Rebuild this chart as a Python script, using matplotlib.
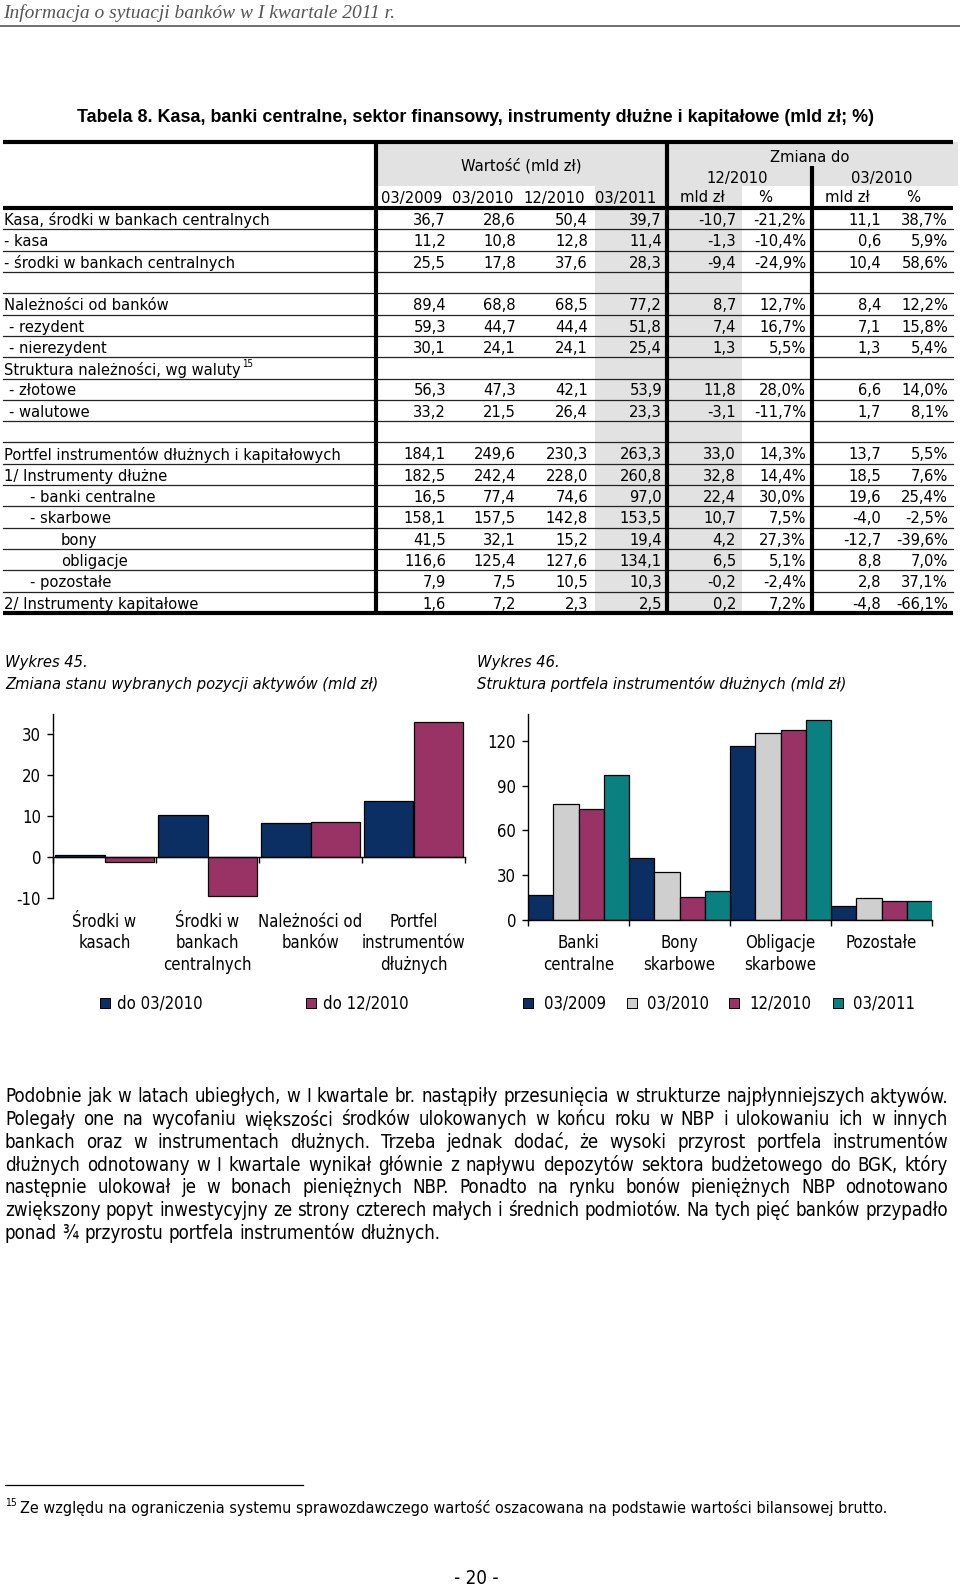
import matplotlib
matplotlib.use('Agg')
import matplotlib.pyplot as plt
from matplotlib.patches import Rectangle
from matplotlib.transforms import blended_transform_factory

# ---------------- data ----------------
page_header = "Informacja o sytuacji banków w I kwartale 2011 r."
table_title = "Tabela 8. Kasa, banki centralne, sektor finansowy, instrumenty dłużne i kapitałowe (mld zł; %)"

row_labels = ["Kasa, środki w bankach centralnych", "- kasa", "- środki w bankach centralnych", "",
              "Należności od banków", "- rezydent", "- nierezydent",
              "Struktura należności, wg waluty", "- złotowe", "- walutowe", "",
              "Portfel instrumentów dłużnych i kapitałowych", "1/ Instrumenty dłużne",
              "- banki centralne", "- skarbowe", "bony", "obligacje", "- pozostałe",
              "2/ Instrumenty kapitałowe"]
row_level = [0, 0, 0, 0, 0, 1, 1, 0, 1, 1, 0, 0, 0, 2, 2, 3, 3, 2, 0]

v_0309 = [36.7, 11.2, 25.5, None, 89.4, 59.3, 30.1, None, 56.3, 33.2, None,
          184.1, 182.5, 16.5, 158.1, 41.5, 116.6, 7.9, 1.6]
v_0310 = [28.6, 10.8, 17.8, None, 68.8, 44.7, 24.1, None, 47.3, 21.5, None,
          249.6, 242.4, 77.4, 157.5, 32.1, 125.4, 7.5, 7.2]
v_1210 = [50.4, 12.8, 37.6, None, 68.5, 44.4, 24.1, None, 42.1, 26.4, None,
          230.3, 228.0, 74.6, 142.8, 15.2, 127.6, 10.5, 2.3]
v_0311 = [39.7, 11.4, 28.3, None, 77.2, 51.8, 25.4, None, 53.9, 23.3, None,
          263.3, 260.8, 97.0, 153.5, 19.4, 134.1, 10.3, 2.5]
d_1210 = [-10.7, -1.3, -9.4, None, 8.7, 7.4, 1.3, None, 11.8, -3.1, None,
          33.0, 32.8, 22.4, 10.7, 4.2, 6.5, -0.2, 0.2]
p_1210 = [-21.2, -10.4, -24.9, None, 12.7, 16.7, 5.5, None, 28.0, -11.7, None,
          14.3, 14.4, 30.0, 7.5, 27.3, 5.1, -2.4, 7.2]
d_0310 = [11.1, 0.6, 10.4, None, 8.4, 7.1, 1.3, None, 6.6, 1.7, None,
          13.7, 18.5, 19.6, -4.0, -12.7, 8.8, 2.8, -4.8]
p_0310 = [38.7, 5.9, 58.6, None, 12.2, 15.8, 5.4, None, 14.0, 8.1, None,
          5.5, 7.6, 25.4, -2.5, -39.6, 7.0, 37.1, -66.1]

col_headers = ["03/2009", "03/2010", "12/2010", "03/2011", "mld zł", "%", "mld zł", "%"]

# Wykres 45
title45 = ["Wykres 45.", "Zmiana stanu wybranych pozycji aktywów (mld zł)"]
cats45 = ["Środki w\nkasach", "Środki w\nbankach\ncentralnych", "Należności od\nbanków",
          "Portfel\ninstrumentów\ndłużnych"]
series45_names = ["do 03/2010", "do 12/2010"]
s45_do0310 = [0.6, 10.4, 8.4, 13.7]
s45_do1210 = [-1.3, -9.4, 8.7, 33.0]
yticks45 = [-10, 0, 10, 20, 30]

# Wykres 46
title46 = ["Wykres 46.", "Struktura portfela instrumentów dłużnych (mld zł)"]
cats46 = ["Banki\ncentralne", "Bony\nskarbowe", "Obligacje\nskarbowe", "Pozostałe"]
series46_names = ["03/2009", "03/2010", "12/2010", "03/2011"]
s46_0309 = [16.5, 41.5, 116.6, 9.5]
s46_0310 = [77.4, 32.1, 125.4, 14.7]
s46_1210 = [74.6, 15.2, 127.6, 12.8]
s46_0311 = [97.0, 19.4, 134.1, 12.8]
yticks46 = [0, 30, 60, 90, 120]

para_lines = [
    "Podobnie jak w latach ubiegłych, w I kwartale br. nastąpiły przesunięcia w strukturze najpłynniejszych aktywów.",
    "Polegały one na wycofaniu większości środków ulokowanych w końcu roku w NBP i ulokowaniu ich w innych",
    "bankach oraz w instrumentach dłużnych. Trzeba jednak dodać, że wysoki przyrost portfela instrumentów",
    "dłużnych odnotowany w I kwartale wynikał głównie z napływu depozytów sektora budżetowego do BGK, który",
    "następnie ulokował je w bonach pieniężnych NBP. Ponadto na rynku bonów pieniężnych NBP odnotowano",
    "zwiększony popyt inwestycyjny ze strony czterech małych i średnich podmiotów. Na tych pięć banków przypadło",
    "ponad ¾ przyrostu portfela instrumentów dłużnych.",
]
footnote = "Ze względu na ograniczenia systemu sprawozdawczego wartość oszacowana na podstawie wartości bilansowej brutto."
page_no = "- 20 -"

# ---------------- style ----------------
NAVY, PLUM, GREY, TEAL = "#0b2f63", "#993366", "#cfcfcf", "#0a8080"
SHADE = "#e2e2e2"
F = dict(family="DejaVu Sans", fontstretch="condensed")
TS = 11.8  # table font size
TDY = 1.8  # vertical nudge for table text

W, H = 960, 1592
fig = plt.figure(figsize=(W / 100, H / 100), dpi=100)
fig.patch.set_facecolor("white")
ax0 = fig.add_axes([0, 0, 1, 1])
ax0.set_xlim(0, W)
ax0.set_ylim(H, 0)
ax0.axis("off")
renderer = fig.canvas.get_renderer()


def fmt(v, pct=False):
    if v is None:
        return ""
    s = f"{v:.1f}".replace(".", ",")
    return s + ("%" if pct else "")


def text_w(s, size, **kw):
    t = ax0.text(0, -200, s, fontsize=size, **kw)
    w = t.get_window_extent(renderer).width
    t.remove()
    return w


# page header
ax0.text(3, 13, page_header, family="Liberation Serif", style="italic", fontsize=14,
         color="#555555", va="center", ha="left")
ax0.plot([0, W], [26, 26], color="#555555", lw=1.2)

# table title
ax0.text(77, 117, table_title, family="Liberation Sans", weight="bold", fontsize=12.9,
         va="center", ha="left")

# ---------------- table ----------------
tx0, tx1 = 3, 953
top_y, hdr_y, bot_y = 142, 208, 613
nrows = len(row_labels)
rh = (bot_y - hdr_y) / nrows

# shading
ax0.add_patch(Rectangle((378, top_y), 958 - 378, 186 - top_y, color=SHADE, lw=0, zorder=0))
ax0.add_patch(Rectangle((595, 186), 742 - 595, bot_y - 186, color=SHADE, lw=0, zorder=0))

# header texts
ax0.text(521, 166, "Wartość (mld zł)", fontsize=TS, ha="center", va="center", **F)
ax0.text(810, 157, "Zmiana do", fontsize=TS, ha="center", va="center", **F)
ax0.text(737, 178, "12/2010", fontsize=TS, ha="center", va="center", **F)
ax0.text(882, 178, "03/2010", fontsize=TS, ha="center", va="center", **F)
hdr_cx = [412, 483, 554, 626, 702, 765, 847, 913]
for cx, lab in zip(hdr_cx, col_headers):
    ax0.text(cx, 198, lab, fontsize=TS, ha="center", va="center", **F)

# body rows
indent_px = [4, 9, 30, 61]
col_right = [446, 516, 588, 662, 736, 806, 881, 948]
cols = [(v_0309, False), (v_0310, False), (v_1210, False), (v_0311, False),
        (d_1210, False), (p_1210, True), (d_0310, False), (p_0310, True)]
for i, lab in enumerate(row_labels):
    cy = hdr_y + (i + 0.5) * rh + TDY
    if lab:
        t = ax0.text(indent_px[row_level[i]], cy, lab, fontsize=TS, ha="left", va="center", **F)
        if lab.startswith("Struktura"):
            bb = t.get_window_extent(renderer)
            ax0.text(indent_px[row_level[i]] + bb.width + 1, cy - 6, "15", fontsize=7,
                     ha="left", va="center", **F)
    for (vals, pct), xr in zip(cols, col_right):
        s = fmt(vals[i], pct)
        if s:
            ax0.text(xr, cy, s, fontsize=TS, ha="right", va="center", **F)
    if i < nrows - 1:
        ax0.plot([tx0, tx1], [hdr_y + (i + 1) * rh] * 2, color="#222222", lw=0.9, zorder=3)

# thick lines
for y in (top_y, hdr_y, bot_y):
    ax0.plot([tx0, tx1], [y, y], color="black", lw=3.0, zorder=4, solid_capstyle="butt")
for xv in (376, 667):
    ax0.plot([xv, xv], [top_y, bot_y], color="black", lw=3.0, zorder=4, solid_capstyle="butt")
ax0.plot([812, 812], [166, bot_y], color="black", lw=3.0, zorder=4, solid_capstyle="butt")

# ---------------- charts ----------------
def style_axis(ax, yticks):
    for s in ("top", "right"):
        ax.spines[s].set_visible(False)
    ax.spines["left"].set_linewidth(1.0)
    ax.spines["bottom"].set_position(("data", 0))
    ax.spines["bottom"].set_linewidth(1.0)
    ax.set_xticks([-0.5, 0.5, 1.5, 2.5, 3.5])
    ax.set_xticklabels([])
    ax.tick_params(axis="x", direction="out", length=4, width=1.0)
    ax.set_yticks(yticks)
    ax.set_yticklabels([str(t) for t in yticks], fontsize=12, **F)
    ax.tick_params(axis="y", direction="out", length=4.5, width=1.0, pad=4)
    ax.patch.set_alpha(0)


def cat_labels(ax, cats, y0, dy=21.5):
    tr = blended_transform_factory(ax.transData, ax0.transData)
    for i, c in enumerate(cats):
        for j, line in enumerate(c.split("\n")):
            ax0.text(i, y0 + j * dy, line, transform=tr, fontsize=12, ha="center",
                     va="center", **F)


# Wykres 45
ax45 = fig.add_axes([53 / W, 1 - 898 / H, (465 - 53) / W, (898 - 714) / H])
ax45.set_xlim(-0.5, 3.5)
ax45.set_ylim(-10, 35)
x = list(range(len(cats45)))
bw = 0.485
ax45.bar([i - bw / 2 for i in x], s45_do0310, width=bw, color=NAVY, edgecolor="black", lw=0.9)
ax45.bar([i + bw / 2 for i in x], s45_do1210, width=bw, color=PLUM, edgecolor="black", lw=0.9)
style_axis(ax45, yticks45)
cat_labels(ax45, cats45, 922)
ax0.text(5, 662, title45[0], fontsize=11.8, style="italic", ha="left", va="center", **F)
ax0.text(5, 684, title45[1], fontsize=11.8, style="italic", ha="left", va="center", **F)
for (sx, tx), name, col in zip([(100, 117), (306, 323)], series45_names, [NAVY, PLUM]):
    ax0.add_patch(Rectangle((sx, 998), 10, 10, facecolor=col, edgecolor="black", lw=0.7))
    ax0.text(tx, 1003, name, fontsize=12, ha="left", va="center", **F)

# Wykres 46
ax46 = fig.add_axes([528 / W, 1 - 920 / H, (932 - 528) / W, (920 - 714) / H])
ax46.set_xlim(-0.5, 3.5)
ax46.set_ylim(0, 138)
bw4 = 0.25
series46 = [s46_0309, s46_0310, s46_1210, s46_0311]
cols46 = [NAVY, GREY, PLUM, TEAL]
for k, (vals, col) in enumerate(zip(series46, cols46)):
    off = (k - 1.5) * bw4
    ax46.bar([i + off for i in range(len(cats46))], vals, width=bw4, color=col,
             edgecolor="black", lw=0.9)
style_axis(ax46, yticks46)
cat_labels(ax46, cats46, 943)
ax0.text(477, 662, title46[0], fontsize=11.8, style="italic", ha="left", va="center", **F)
ax0.text(477, 684, title46[1], fontsize=11.8, style="italic", ha="left", va="center", **F)
for (sx, tx), name, col in zip([(523, 544), (627, 647), (729, 749), (833, 853)],
                               series46_names, cols46):
    ax0.add_patch(Rectangle((sx, 998), 10, 10, facecolor=col, edgecolor="black", lw=0.7))
    ax0.text(tx, 1003, name, fontsize=12, ha="left", va="center", **F)

# ---------------- paragraph (justified) ----------------
px0, px1 = 5, 948
py0, pdy = 1097, 22.67
# choose font size so that the first line fits the column width with normal spacing
nat = text_w(para_lines[0], 12, **F)
PS = 12 * (px1 - px0 - 2) / nat
space_w = text_w("a a", PS, **F) - text_w("aa", PS, **F)
for i, line in enumerate(para_lines):
    y = py0 + i * pdy
    words = line.split(" ")
    texts = [ax0.text(0, y, w, fontsize=PS, ha="left", va="center", **F) for w in words]
    widths = [t.get_window_extent(renderer).width for t in texts]
    if i == len(para_lines) - 1:
        gap = space_w
    else:
        gap = (px1 - px0 - sum(widths)) / (len(words) - 1)
    xx = px0
    for t, w in zip(texts, widths):
        t.set_x(xx)
        xx += w + gap

# footnote
ax0.plot([5, 303], [1485, 1485], color="black", lw=0.9)
ax0.text(5, 1503, "15", fontsize=7.5, ha="left", va="center", **F)
ax0.text(20, 1508, footnote, fontsize=11.6, ha="left", va="center", **F)
ax0.text(476, 1579, page_no, fontsize=13.5, ha="center", va="center", **F)

fig.savefig("out.png", dpi=100, facecolor="white")
